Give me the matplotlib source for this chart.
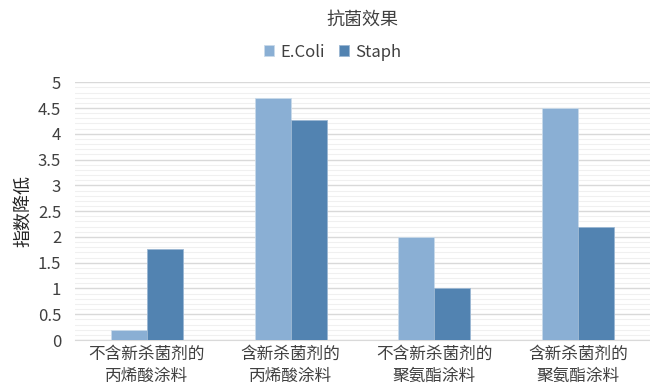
import matplotlib
matplotlib.use('Agg')
import matplotlib.pyplot as plt
import numpy as np
from matplotlib.ticker import MultipleLocator, FuncFormatter

plt.rcParams['font.family'] = ['Noto Sans CJK SC', 'DejaVu Sans']

categories = ['不含新杀菌剂的\n丙烯酸涂料', '含新杀菌剂的\n丙烯酸涂料',
              '不含新杀菌剂的\n聚氨酯涂料', '含新杀菌剂的\n聚氨酯涂料']
ecoli = [0.2, 4.7, 2.0, 4.5]
staph = [1.77, 4.27, 1.0, 2.2]

fig = plt.figure(figsize=(6.5, 3.86), dpi=100)
ax = fig.add_axes([0.1154, 0.119, 0.8846, 0.668])

x = np.arange(len(categories))
w = 0.25
ax.bar(x - w/2, ecoli, w, color='#8aafd4', edgecolor='#c9daea', linewidth=0.6, label='E.Coli', zorder=3)
ax.bar(x + w/2, staph, w, color='#5283b1', edgecolor='#9bb7d3', linewidth=0.6, label='Staph', zorder=3)

ax.set_xlim(-0.5, 3.5)
ax.set_ylim(0, 5)
ax.yaxis.set_major_locator(MultipleLocator(0.5))
ax.yaxis.set_minor_locator(MultipleLocator(0.1))
ax.yaxis.set_major_formatter(FuncFormatter(lambda v, p: ('%g' % v)))
ax.grid(axis='y', which='major', color='#d9d9d9', linewidth=1.0, zorder=0)
ax.grid(axis='y', which='minor', color='#f0f0f0', linewidth=0.8, zorder=0)
ax.set_xticks(x)
ax.set_xticklabels(categories, fontsize=12, color='#404040', linespacing=1.4)
ax.tick_params(axis='y', which='both', length=0, labelsize=12, labelcolor='#404040', pad=10)
ax.tick_params(axis='x', length=0, pad=4)
for s in ['top', 'right', 'left']:
    ax.spines[s].set_visible(False)
ax.spines['bottom'].set_color('#d9d9d9')

ax.set_ylabel('指数降低', fontsize=13, color='#262626', labelpad=4)
fig.text(0.558, 0.95, '抗菌效果', ha='center', va='center', fontsize=13, color='#404040')
fig.legend(loc='center', bbox_to_anchor=(0.512, 0.865), ncol=2, frameon=False,
           fontsize=12, handlelength=0.6, handleheight=0.6, handletextpad=0.4,
           columnspacing=0.8, labelcolor='#404040')

fig.savefig('out.png', dpi=100)
